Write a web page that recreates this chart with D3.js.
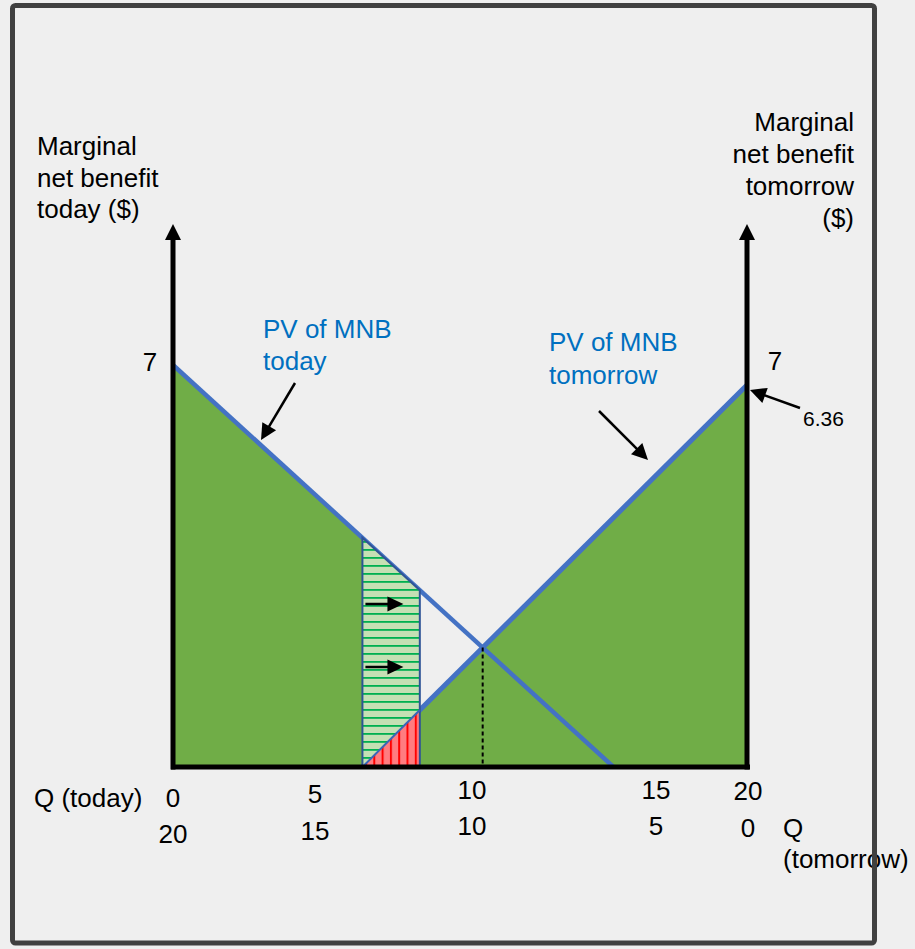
<!DOCTYPE html>
<html>
<head>
<meta charset="utf-8">
<script src="https://cdn.jsdelivr.net/npm/d3@7/dist/d3.min.js"></script>
<style>
  html, body { margin: 0; padding: 0; background: #efefef; }
  svg { display: block; }
  text { font-family: "Liberation Sans", Arial, sans-serif; }
</style>
</head>
<body>
<div id="chart"></div>
<script>
// ---------- DATA ----------
const qTodayTicks = [0, 5, 10, 15, 20];          // Q (today)
const qTomorrowTicks = [20, 15, 10, 5, 0];       // Q (tomorrow)
const mnbToday = [{ q: 0, v: 7 }, { q: 15.35, v: 0 }];     // PV of MNB today
const mnbTomorrow = [{ q: 6.6, v: 0 }, { q: 20, v: 6.65 }]; // PV of MNB tomorrow
const shiftBand = [6.6, 8.6];                     // hatched reallocation band
const yAxisValue = 7;
const tomorrowInterceptLabel = "6.36";

// ---------- LAYOUT ----------
const W = 915, H = 949;
const x = d3.scaleLinear().domain([0, 20]).range([173, 747]);
const y = d3.scaleLinear().domain([0, 7]).range([767, 365]);
// tick labels in the original sit at uneven spots
const xLabel = d3.scaleLinear().domain([0, 5, 10, 15, 20]).range([173, 315, 472, 656, 748]);
const row1Shift = [6, 2, -2, -2, -1];
const row2Shift = [5, 2, -3, -3, -1];

const GREEN = "#70ad47", BLUE = "#4472c4", DARKBLUE = "#2f5496", TEXTBLUE = "#0070c0";

function lineAt(seg, q) {
  const [a, b] = seg;
  return a.v + (b.v - a.v) * (q - a.q) / (b.q - a.q);
}

const svg = d3.select("#chart").append("svg")
  .attr("width", W).attr("height", H)
  .style("background", "#efefef");

const defs = svg.append("defs");
const pg = defs.append("pattern").attr("id", "hatchG")
  .attr("patternUnits", "userSpaceOnUse").attr("width", 8).attr("height", 8)
  .attr("y", 541);
pg.append("rect").attr("width", 8).attr("height", 8).attr("fill", "#c5e0b4");
pg.append("rect").attr("y", 0).attr("width", 8).attr("height", 1.8).attr("fill", "#00b050");

const pr = defs.append("pattern").attr("id", "hatchR")
  .attr("patternUnits", "userSpaceOnUse").attr("width", 8.3).attr("height", 8)
  .attr("x", 365);
pr.append("rect").attr("width", 8.3).attr("height", 8).attr("fill", "#ff7c80");
pr.append("rect").attr("x", 0).attr("width", 2).attr("height", 8).attr("fill", "#ff0000");

const P = (q, v) => [x(q), y(v)];
const poly = pts => "M" + pts.map(p => p.join(",")).join("L") + "Z";

const [b0, b1] = shiftBand;

// green areas
svg.append("path").attr("fill", GREEN)
  .attr("d", poly([P(0, 0), P(0, mnbToday[0].v), P(b0, lineAt(mnbToday, b0)), P(b0, 0)]));
svg.append("path").attr("fill", GREEN)
  .attr("d", poly([P(b1, 0), P(b1, lineAt(mnbTomorrow, b1)), P(20, lineAt(mnbTomorrow, 20)), P(20, 0)]));

// blue MNB lines
const lineGen = d3.line().x(d => x(d.q)).y(d => y(d.v));
svg.append("path").datum(mnbToday).attr("d", lineGen)
  .attr("fill", "none").attr("stroke", BLUE).attr("stroke-width", 4.5);
svg.append("path").datum(mnbTomorrow).attr("d", lineGen)
  .attr("fill", "none").attr("stroke", BLUE).attr("stroke-width", 5);

// hatched band
svg.append("path").attr("fill", "url(#hatchG)")
  .attr("d", poly([P(b0, lineAt(mnbToday, b0)), P(b1, lineAt(mnbToday, b1)), P(b1, lineAt(mnbTomorrow, b1)), P(b0, 0)]));
svg.append("path").attr("fill", "url(#hatchR)")
  .attr("d", poly([P(b0, 0), P(b1, lineAt(mnbTomorrow, b1)), P(b1, 0)]));
svg.append("path").attr("fill", "none").attr("stroke", DARKBLUE).attr("stroke-width", 2)
  .attr("d", poly([P(b0, lineAt(mnbToday, b0)), P(b1, lineAt(mnbToday, b1)), P(b1, 0), P(b0, 0)]));
svg.append("line").attr("stroke", "#3a66b8").attr("stroke-width", 2)
  .attr("x1", x(b0)).attr("y1", y(0)).attr("x2", x(b1)).attr("y2", y(lineAt(mnbTomorrow, b1)));

// small arrows inside band
function arrow(x1, y1, x2, y2, len, half, sw) {
  const ang = Math.atan2(y2 - y1, x2 - x1);
  const bx = x2 - len * Math.cos(ang), by = y2 - len * Math.sin(ang);
  svg.append("line").attr("x1", x1).attr("y1", y1).attr("x2", bx + Math.cos(ang)).attr("y2", by + Math.sin(ang))
    .attr("stroke", "#000").attr("stroke-width", sw);
  const px = -Math.sin(ang) * half, py = Math.cos(ang) * half;
  svg.append("path").attr("fill", "#000")
    .attr("d", `M${x2},${y2}L${bx + px},${by + py}L${bx - px},${by - py}Z`);
}
arrow(x(b0) + 3, 604, x(b0) + 41, 604, 16, 7.5, 2.5);
arrow(x(b0) + 3, 667, x(b0) + 41, 667, 16, 7.5, 2.5);

// dashed line at intersection
const sT = (mnbToday[1].v - mnbToday[0].v) / (mnbToday[1].q - mnbToday[0].q);
const sM = (mnbTomorrow[1].v - mnbTomorrow[0].v) / (mnbTomorrow[1].q - mnbTomorrow[0].q);
const qStar = (mnbTomorrow[0].v - sM * mnbTomorrow[0].q - (mnbToday[0].v - sT * mnbToday[0].q)) / (sT - sM);
const vStar = lineAt(mnbToday, qStar);
svg.append("line").attr("x1", x(qStar)).attr("x2", x(qStar)).attr("y1", y(vStar)).attr("y2", y(0))
  .attr("stroke", "#000").attr("stroke-width", 2).attr("stroke-dasharray", "4,3");

// axes
svg.append("line").attr("x1", x(0) - 2).attr("x2", x(20) + 3).attr("y1", y(0)).attr("y2", y(0))
  .attr("stroke", "#000").attr("stroke-width", 5);
[0, 20].forEach(q => {
  svg.append("line").attr("x1", x(q)).attr("x2", x(q)).attr("y1", y(0) + 2.5).attr("y2", 238)
    .attr("stroke", "#000").attr("stroke-width", 5);
  svg.append("path").attr("fill", "#000")
    .attr("d", `M${x(q)},224L${x(q) + 8},240L${x(q) - 8},240Z`);
});

// text helpers
function txt(t, xx, yy, opts = {}) {
  return svg.append("text").attr("x", xx).attr("y", yy).text(t)
    .attr("font-size", opts.size || 26)
    .attr("fill", opts.fill || "#000")
    .attr("text-anchor", opts.anchor || "start");
}

// axis titles
["Marginal", "net benefit", "today ($)"].forEach((t, i) => txt(t, 37, 155 + i * 31.5));
["Marginal", "net benefit", "tomorrow", "($)"].forEach((t, i) => txt(t, 854, 131 + i * 32, { anchor: "end" }));

txt(String(yAxisValue), 150, 371, { anchor: "middle" });
txt(String(yAxisValue), 775, 370, { anchor: "middle" });

// curve labels
txt("PV of MNB", 263, 338, { fill: TEXTBLUE });
txt("today", 263, 370, { fill: TEXTBLUE });
txt("PV of MNB", 549, 351, { fill: TEXTBLUE });
txt("tomorrow", 549, 384, { fill: TEXTBLUE });

arrow(295, 383, 261, 440, 16, 8, 2.5);
arrow(599, 411, 648, 460, 16, 8, 2.5);

txt(tomorrowInterceptLabel, 803, 426, { size: 21 });
arrow(800, 408, 750, 390, 16, 8, 2.5);

// Q tick labels
qTodayTicks.forEach((q, i) => txt(String(q), xLabel(q), 801 + row1Shift[i], { anchor: "middle" }));
qTomorrowTicks.forEach((q, i) => txt(String(q), xLabel(qTodayTicks[i]), 838 + row2Shift[i], { anchor: "middle" }));
txt("Q (today)", 34, 807);
txt("Q", 783, 837);
txt("(tomorrow)", 783, 868);

// frame
svg.append("rect").attr("x", 12.5).attr("y", 5.5).attr("width", 862).attr("height", 937.5)
  .attr("rx", 3).attr("fill", "none").attr("stroke", "#404040").attr("stroke-width", 5);
</script>
</body>
</html>
